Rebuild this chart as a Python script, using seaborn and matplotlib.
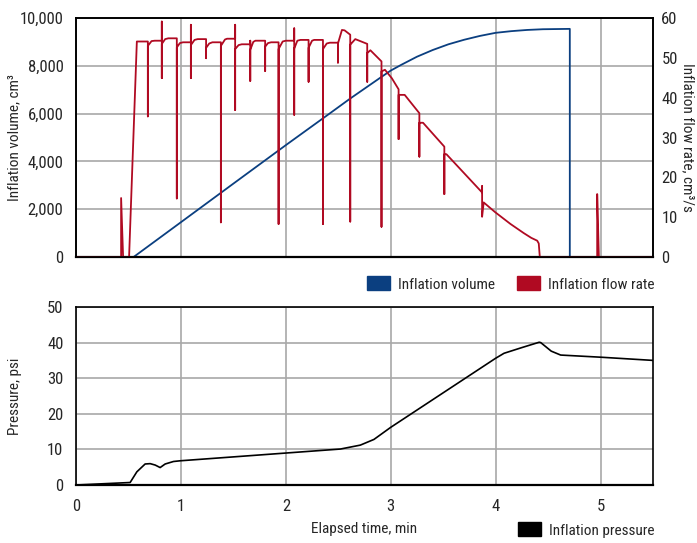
import matplotlib
matplotlib.use("Agg")
import matplotlib.pyplot as plt
import matplotlib.font_manager as fm
from matplotlib.patches import Patch
from matplotlib.ticker import FuncFormatter
import seaborn as sns

# inflation volume (cm3) vs elapsed time (min)
t_vol = [0.0, 0.549, 1.0, 1.5, 2.0, 2.426, 2.617, 2.91, 3.0, 3.1, 3.25, 3.4,
         3.55, 3.7, 3.85, 4.0, 4.15, 4.3, 4.45, 4.707, 4.707, 5.5]
vol = [0, 0, 1455, 3070, 4680, 6030, 6640, 7530, 7800, 8040, 8380, 8660,
       8900, 9090, 9250, 9380, 9450, 9500, 9530, 9545, 0, 0]

# inflation flow rate (cm3/s)
t_flow = [0.0, 0.430, 0.430, 0.449, 0.506, 0.580, 0.685,
          0.685, 0.685, 0.72, 0.75, 0.818,
          0.818, 0.818, 0.818, 0.85, 0.88, 0.961,
          0.961, 0.961, 0.99, 1.02, 1.095,
          1.095, 1.095, 1.095, 1.13, 1.16, 1.240,
          1.240, 1.240, 1.27, 1.30, 1.381,
          1.381, 1.381, 1.42, 1.44, 1.517,
          1.517, 1.517, 1.517, 1.55, 1.58, 1.661,
          1.661, 1.661, 1.661, 1.69, 1.71, 1.803,
          1.803, 1.803, 1.83, 1.86, 1.931,
          1.931, 1.931, 1.97, 2.00, 2.080,
          2.080, 2.080, 2.080, 2.11, 2.14, 2.217,
          2.217, 2.217, 2.25, 2.27, 2.354,
          2.354, 2.354, 2.39, 2.42, 2.497,
          2.497, 2.497, 2.535, 2.56, 2.614,
          2.614, 2.614, 2.662, 2.776,
          2.776, 2.776, 2.806, 2.912,
          2.912, 2.912, 2.945, 3.01, 3.075,
          3.075, 3.075, 3.133, 3.273,
          3.273, 3.273, 3.308, 3.511,
          3.511, 3.511, 3.531, 3.871,
          3.871, 3.871, 3.886, 3.998, 4.141, 4.268, 4.34, 4.396, 4.411, 4.421,
          4.968, 4.968, 4.984, 5.5]
flow = [0, 0, 14.8, 0, 0, 54.1, 54.1,
        35.3, 53.0, 54.2, 54.3, 54.3,
        59.1, 44.9, 53.5, 54.7, 54.9, 54.9,
        14.7, 52.6, 53.7, 53.9, 53.9,
        58.3, 44.9, 53.2, 54.5, 54.7, 54.7,
        49.9, 52.5, 53.6, 53.9, 53.9,
        8.7, 53.0, 54.6, 54.8, 54.8,
        58.3, 36.9, 52.2, 53.2, 53.4, 53.4,
        54.3, 44.2, 52.0, 54.0, 54.3, 54.3,
        46.7, 52.8, 53.7, 53.9, 53.9,
        8.3, 52.2, 54.1, 54.3, 54.3,
        57.4, 35.7, 52.3, 54.3, 54.5, 54.5,
        44.0, 52.5, 54.3, 54.5, 54.5,
        8.3, 52.2, 53.6, 53.8, 53.8,
        48.8, 53.6, 57.0, 56.9, 55.8,
        8.9, 53.3, 54.7, 53.5,
        44.0, 51.2, 51.9, 49.1,
        7.6, 46.6, 47.0, 44.9, 42.1,
        29.6, 40.7, 40.7, 36.1,
        25.2, 33.7, 33.7, 27.7,
        15.8, 25.8, 25.8, 16.2,
        17.8, 10.1, 13.7, 11.2, 8.3, 6.0, 4.8, 4.1, 3.4, 0.0,
        0.0, 15.8, 0.0, 0.0]

# inflation pressure (psi)
t_pres = [0.0, 0.516, 0.580, 0.659, 0.707, 0.755, 0.802, 0.850, 0.929, 0.993,
          2.52, 2.71, 2.84, 3.0, 4.0, 4.08, 4.25, 4.415, 4.43, 4.53, 4.62, 5.0, 5.5]
pres = [0.0, 0.7, 3.7, 5.9, 6.0, 5.6, 4.9, 5.9, 6.6, 6.8,
        10.1, 11.2, 12.8, 16.2, 35.6, 37.0, 38.6, 40.1, 40.0, 37.6, 36.5, 35.9, 35.0]

blue = "#0b3f80"
red = "#b00a22"
grid_c = "#a8a8a8"

sns.set_style("white")

# pick a narrow face if one is installed
entries = fm.fontManager.ttflist
names = {f.name for f in entries}
family, stretch, scale = "DejaVu Sans", "normal", 0.88
for cand in ["Liberation Sans Narrow", "Roboto Condensed", "Open Sans Condensed",
             "DejaVu Sans Condensed", "Noto Sans Condensed"]:
    if cand in names:
        family, stretch, scale = cand, "normal", 1.0
        break
else:
    for pref in ["Roboto", "Noto Sans", "Open Sans", "DejaVu Sans", "Liberation Sans"]:
        cond = [f for f in entries if f.name == pref and "condensed" in str(f.stretch)]
        if cond:
            family, stretch, scale = pref, cond[0].stretch, 1.0
            break

plt.rcParams["font.family"] = [family, "DejaVu Sans"]
plt.rcParams["font.stretch"] = stretch
tick_fs = 12 * scale
lab_fs = 11 * scale

fig = plt.figure(figsize=(6.97, 5.43), dpi=100)
ax1 = fig.add_axes([76 / 697, 1 - 257 / 543, 577 / 697, 239 / 543])
ax2 = ax1.twinx()
ax3 = fig.add_axes([76 / 697, 1 - 485 / 543, 577 / 697, 178 / 543])

sns.lineplot(x=t_vol, y=vol, ax=ax1, color=blue, lw=1.3, estimator=None, sort=False)
sns.lineplot(x=t_flow, y=flow, ax=ax2, color=red, lw=1.3, estimator=None, sort=False)
sns.lineplot(x=t_pres, y=pres, ax=ax3, color="black", lw=1.2, estimator=None, sort=False)

for ax in (ax1, ax3):
    ax.set_xlim(0, 5.5)
    ax.set_xticks(range(6))
    ax.grid(True, color=grid_c, lw=1.2)
    ax.set_axisbelow(True)
    for s in ax.spines.values():
        s.set_color("black")
        s.set_linewidth(1.2)
    ax.tick_params(length=0, labelsize=tick_fs)

ax1.set_ylim(0, 10000)
ax1.set_yticks(range(0, 10001, 2000))
ax1.yaxis.set_major_formatter(FuncFormatter(lambda v, p: f"{int(v):,}"))
ax1.tick_params(axis="x", labelbottom=False)
ax1.tick_params(axis="y", pad=9)
ax1.spines["bottom"].set_linewidth(1.6)
ax1.set_ylabel("Inflation volume, cm³", fontsize=lab_fs)
ax1.yaxis.set_label_coords(-0.095, 0.5)

ax2.set_ylim(0, 60)
ax2.set_yticks(range(0, 61, 10))
ax2.grid(False)
ax2.tick_params(axis="y", length=0, pad=6, labelsize=tick_fs)
for s in ax2.spines.values():
    s.set_color("black")
    s.set_linewidth(1.2)
ax2.set_ylabel("Inflation flow rate, cm³/s", fontsize=lab_fs, rotation=270, va="center")
ax2.yaxis.set_label_coords(1.0607, 0.5)

ax3.set_ylim(0, 50)
ax3.set_yticks(range(0, 51, 10))
ax3.tick_params(axis="y", pad=9)
ax3.tick_params(axis="x", pad=10)
ax3.spines["bottom"].set_linewidth(1.6)
ax3.set_ylabel("Pressure, psi", fontsize=lab_fs)
ax3.yaxis.set_label_coords(-0.093, 0.5)
ax3.set_xlabel("Elapsed time, min", fontsize=lab_fs)
ax3.xaxis.set_label_coords(0.5, -0.21)

top_handles = [Patch(color=blue, label="Inflation volume"),
               Patch(color=red, label="Inflation flow rate")]
fig.legend(handles=top_handles, loc="center right", bbox_to_anchor=(0.948, 1 - 284 / 543),
           ncol=2, frameon=False, fontsize=lab_fs, handlelength=1.5, handleheight=1.0,
           columnspacing=1.4, handletextpad=0.55, borderaxespad=0)
fig.legend(handles=[Patch(color="black", label="Inflation pressure")], loc="center right",
           bbox_to_anchor=(0.948, 1 - 530 / 543), frameon=False, fontsize=lab_fs,
           handlelength=1.5, handleheight=1.0, handletextpad=0.55, borderaxespad=0)

plt.savefig("out.png", dpi=100)
